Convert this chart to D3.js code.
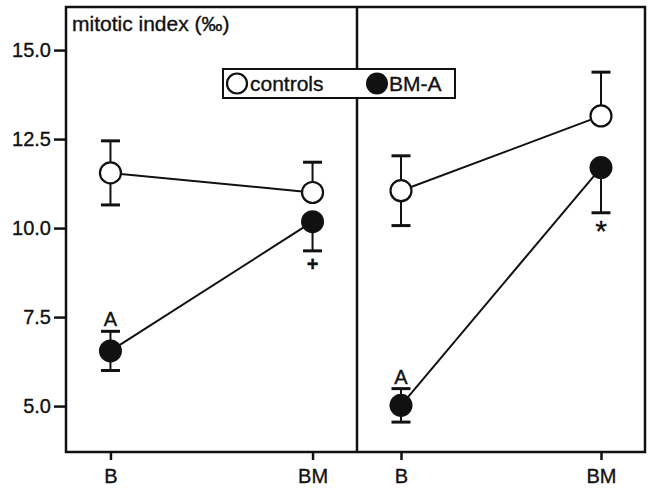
<!DOCTYPE html>
<html>
<head>
<meta charset="utf-8">
<script src="https://cdn.jsdelivr.net/npm/d3@7"></script>
<style>
  body { margin: 0; background: #fff; }
  text { font-family: Arial, "Liberation Sans", sans-serif; fill: #111; stroke: #111; stroke-width: 0.35; }
</style>
</head>
<body>
<svg id="drawing_region"></svg>
<script>
// values (mitotic index, per mille)
const categories = ["B", "BM"];
const yTicks = [5.0, 7.5, 10.0, 12.5, 15.0];

// error bars: up / down lengths, null where the figure shows none
const leftControls = [11.55, 11.0];
const leftControlsUp = [0.9, 0.85];
const leftControlsDown = [0.9, null];
const leftBMA = [6.55, 10.18];
const leftBMAUp = [0.55, null];
const leftBMADown = [0.55, 0.82];

const rightControls = [11.05, 13.15];
const rightControlsUp = [0.98, 1.23];
const rightControlsDown = [0.98, null];
const rightBMA = [5.02, 11.7];
const rightBMAUp = [0.47, null];
const rightBMADown = [0.47, 1.27];

const leftMarks = [{cat: "B", text: "A", where: "above"}, {cat: "BM", text: "+", where: "below"}];
const rightMarks = [{cat: "B", text: "A", where: "above"}, {cat: "BM", text: "*", where: "below"}];

const config = {
  width: 649,
  height: 489,
  top: 7,
  bottom: 452,
  left: 66,
  split: 357,
  right: 645
};

const svg = d3.select('#drawing_region')
    .attr('width', config.width)
    .attr('height', config.height);

const yscale = d3.scaleLinear()
    .domain([3.71, 16.21])
    .range([config.bottom, config.top]);

function makeX(x0, x1) {
  return d3.scalePoint().domain(categories).range([x0, x1]).padding(0.22);
}

const xLeft = makeX(config.left, config.split);
const xRight = makeX(config.split, config.right);

// y axis on the left panel
const yaxis = d3.axisLeft(yscale)
    .tickValues(yTicks)
    .tickFormat(d3.format('.1f'))
    .tickSize(12)
    .tickPadding(3)
    .tickSizeOuter(0);

const yg = svg.append('g')
    .attr('transform', `translate(${config.left},0)`)
    .call(yaxis);
yg.select('.domain').remove();
yg.selectAll('line').attr('stroke', '#111').attr('stroke-width', 2.5);
yg.selectAll('text').attr('font-size', 20).attr('fill', '#111');

function drawPanel(xscale, controls, cUp, cDown, bma, bUp, bDown, marks) {
  const xaxis = d3.axisBottom(xscale).tickSize(8).tickPadding(9).tickSizeOuter(0);
  const xg = svg.append('g')
      .attr('transform', `translate(0,${config.bottom})`)
      .call(xaxis);
  xg.select('.domain').remove();
  xg.selectAll('line').attr('stroke', '#111').attr('stroke-width', 2.5);
  xg.selectAll('text').attr('font-size', 20).attr('fill', '#111');

  const line = d3.line()
      .x((d, i) => xscale(categories[i]))
      .y(d => yscale(d));

  [controls, bma].forEach(s => {
    svg.append('path')
        .datum(s)
        .attr('d', line)
        .attr('fill', 'none')
        .attr('stroke', '#111')
        .attr('stroke-width', 2);
  });

  // error bars
  [[controls, cUp, 1], [controls, cDown, -1], [bma, bUp, 1], [bma, bDown, -1]].forEach(([m, e, sign]) => {
    const g = svg.append('g');
    categories.forEach((c, i) => {
      if (e[i] == null) return;
      const x = xscale(c);
      const v = m[i] + sign * e[i];
      g.append('line')
          .attr('x1', x).attr('x2', x)
          .attr('y1', yscale(m[i])).attr('y2', yscale(v))
          .attr('stroke', '#111').attr('stroke-width', 2);
      g.append('line')
          .attr('x1', x - 9.5).attr('x2', x + 9.5)
          .attr('y1', yscale(v)).attr('y2', yscale(v))
          .attr('stroke', '#111').attr('stroke-width', 3);
    });
  });

  svg.append('g').selectAll('circle')
      .data(bma)
      .join('circle')
      .attr('cx', (d, i) => xscale(categories[i]))
      .attr('cy', d => yscale(d))
      .attr('r', 11.5)
      .attr('fill', '#111');

  svg.append('g').selectAll('circle')
      .data(controls)
      .join('circle')
      .attr('cx', (d, i) => xscale(categories[i]))
      .attr('cy', d => yscale(d))
      .attr('r', 10.5)
      .attr('fill', '#fff')
      .attr('stroke', '#111')
      .attr('stroke-width', 2.2);

  // significance marks on the BM-A series
  marks.forEach(mk => {
    const i = categories.indexOf(mk.cat);
    const v = mk.where === 'above' ? bma[i] + bUp[i] : bma[i] - bDown[i];
    svg.append('text')
        .attr('x', xscale(mk.cat))
        .attr('y', yscale(v) + (mk.where === 'above' ? -5 : (mk.text === '*' ? 28 : 20)))
        .attr('text-anchor', 'middle')
        .attr('font-size', mk.text === '*' ? 30 : 20)
        .attr('font-weight', mk.text === '+' ? 'bold' : 'normal')
        .text(mk.text);
  });
}

drawPanel(xLeft, leftControls, leftControlsUp, leftControlsDown, leftBMA, leftBMAUp, leftBMADown, leftMarks);
drawPanel(xRight, rightControls, rightControlsUp, rightControlsDown, rightBMA, rightBMAUp, rightBMADown, rightMarks);

// frame of both panels
svg.append('rect')
    .attr('x', config.left).attr('y', config.top)
    .attr('width', config.right - config.left)
    .attr('height', config.bottom - config.top)
    .attr('fill', 'none')
    .attr('stroke', '#111')
    .attr('stroke-width', 2.5);
svg.append('line')
    .attr('x1', config.split).attr('x2', config.split)
    .attr('y1', config.top).attr('y2', config.bottom)
    .attr('stroke', '#111')
    .attr('stroke-width', 2.5);

svg.append('text')
    .attr('x', 72).attr('y', 31)
    .attr('font-size', 21)
    .text('mitotic index (‰)');

// legend
const legend = svg.append('g').attr('transform', 'translate(223,69)');
legend.append('rect')
    .attr('width', 232).attr('height', 29)
    .attr('fill', '#fff')
    .attr('stroke', '#111')
    .attr('stroke-width', 2);
legend.append('circle')
    .attr('cx', 14).attr('cy', 14.5).attr('r', 10)
    .attr('fill', '#fff').attr('stroke', '#111').attr('stroke-width', 2.2);
legend.append('text')
    .attr('x', 27).attr('y', 22)
    .attr('font-size', 21)
    .text('controls');
legend.append('circle')
    .attr('cx', 154).attr('cy', 14.5).attr('r', 11)
    .attr('fill', '#111');
legend.append('text')
    .attr('x', 166).attr('y', 22)
    .attr('font-size', 21)
    .text('BM-A');
</script>
</body>
</html>
